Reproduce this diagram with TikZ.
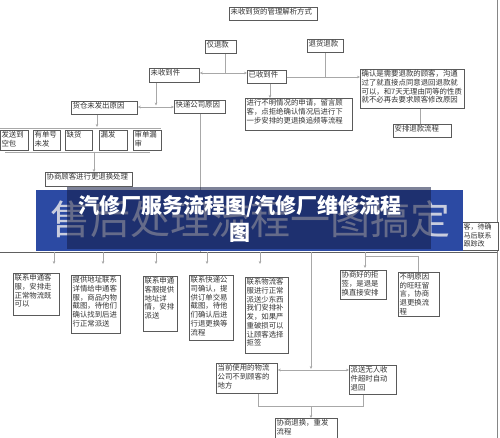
\documentclass[tikz,border=0pt]{standalone}
\usepackage{fontspec}
\setmainfont{Noto Sans CJK SC}
\usetikzlibrary{arrows.meta}
\definecolor{bannerblue}{HTML}{2C4AA3}
\definecolor{bannerdark}{HTML}{141C45}
\definecolor{edgecol}{HTML}{5A5A5A}
\definecolor{conncol}{HTML}{A8A8A8}
\definecolor{linecol}{HTML}{606060}
\definecolor{txtcol}{HTML}{333333}
\definecolor{bigcol}{HTML}{C9CDDE}
\tikzset{
 box/.style={draw=edgecol, line width=0.8pt, anchor=north west, inner sep=1.2pt, text=txtcol, font=\fontsize{7.4}{8.7}\selectfont},
 smallbox/.style={box, font=\fontsize{7}{8.5}\selectfont},
 conn/.style={draw=conncol, line width=0.9pt},
 arr/.style={conn, -{Stealth[length=3pt,width=2.6pt]}},
 mainline/.style={draw=linecol, line width=0.8pt},
 sideline/.style={draw=conncol!80!black, line width=0.8pt},
}
\newcommand{\bx}[7][box]{\node[#1] (#2) at (#3,#4) {\parbox[t][\dimexpr #6pt-2.4pt\relax][t]{\dimexpr #5pt-2.4pt\relax}{\raggedright #7}};}
\begin{document}
\begin{tikzpicture}[x=1pt,y=-1pt]
\useasboundingbox (0,0) rectangle (500,438);
\fill[white] (0,0) rectangle (500,438);

% x positions
\foreach \n/\v in {x54/54,x103/103,x156/156,x207/207,x260/260,x200/200,x270/270,x420/420,x97/97,x94/94,x311/311,x258/258,x363/363,x365/365,x418/418,x497/497}
  {\coordinate (\n) at (\v,0);}

% upper part
\bx{top}{229}{7}{88}{13}{未收到货的管理解析方式}
\bx{jtk}{205}{40}{31}{13}{仅退款}
\bx{thtk}{307}{39}{36}{13}{退货退款}
\bx{wsd}{149}{68}{50}{14}{未收到件}
\bx{ysd}{247}{70}{39}{13}{已收到件}
\bx{qr}{360}{69}{104}{39}{确认是需要退款的顾客，沟通\\过了就直接点同意退回退款就\\可以，和7天无理由同等的性质\\就不必再去要求顾客修改原因}
\bx{aptk}{393}{124}{58}{13}{安排退款流程}
\bx{jx}{245}{98}{107}{32}{进行不明情况的申请，留言顾\\客，点拒绝确认情况后进行下\\一步安排的更退换追频等流程}
\bx{hc}{71}{101}{66}{13}{货仓未发出原因}
\bx{kd}{174}{100}{51}{13}{快递公司原因}
\bx{s1}{0}{130}{28}{20}{发送到\\空包}
\bx{s2}{33}{130}{27}{20}{有单号\\未发}
\bx{s3}{65}{130}{27}{20}{缺货}
\bx{s4}{99}{130}{28}{20}{漏发}
\bx{s5}{133}{130}{28}{20}{审单漏\\审}
\bx{xs}{45}{172}{87}{14}{协商顾客进行更退换处理}

% upper connectors
\coordinate (j1) at (225,73);
\draw[conn] (jtk.south -| j1) -- (j1);
\draw[arr] (j1) -- (j1 -| wsd.east);
\draw[arr] (j1) -- (j1 -| ysd.west);
\coordinate (j2) at (325,77);
\draw[conn] (thtk.south -| j2) -- (j2);
\draw[conn] (ysd.east |- j2) -- (j2);
\draw[arr] (j2) -- (j2 -| qr.west);
\draw[arr] (ysd.south -| x270) -- (jx.north -| x270);
\draw[conn] (qr.south -| x420) -- (aptk.north -| x420);
\coordinate (j3) at (156,107);
\draw[arr, shorten >=1.5pt] (wsd.south -| j3) -- (j3);
\draw[arr] (j3) -- (j3 -| hc.east);
\draw[arr] (j3) -- (j3 -| kd.west);
\coordinate (h1a) at (0,128);
\coordinate (h1b) at (161,128);
\draw[conn] (h1a) -- (h1b);
\draw[arr, shorten >=1pt] (hc.south -| x97) -- (x97 |- h1a);
\coordinate (h2a) at (5,152);
\coordinate (h2b) at (150,152);
\draw[conn] (h2a) -- (h2b);
\draw[arr] (x94 |- h2a) -- (xs.north -| x94);

% lower boxes
\bx{b1}{13}{273}{46}{42}{联系申通客\\服，安排走\\正常物流既\\可以}
\bx{b2}{71}{275}{49}{58}{提供地址联系\\详情给申通客\\服，商品内物\\截图，待他们\\确认找到后进\\行正常派送}
\bx{b3}{143}{276}{34}{55}{联系申通\\客服提供\\地址详\\情，安排\\派送}
\bx{b4}{189}{275}{44}{65}{联系快递公\\司确认，提\\供订单交易\\截图，待他\\们确认后进\\行退更换等\\流程}
\bx{b5}{245}{277}{43}{76}{联系物流客\\服进行正常\\派送少东西\\我们安排补\\发，如果严\\重破损可以\\让顾客选择\\拒签}
\bx{b6}{340}{270}{46}{29}{协商好的拒\\签，是退是\\换直接安排}
\bx{b7}{398}{272}{41}{44}{不明原因\\的旺旺留\\言，协商\\退更换流\\程}
\bx{b8}{216}{363}{61}{30}{当前使用的物流\\公司不到顾客的\\地方}
\bx{b9}{349}{365}{47}{29}{派送无人收\\件超时自动\\退回}
\bx{b10}{275}{418}{62}{20}{协商退换，重发\\流程}
\bx[smallbox]{rb}{462}{222}{36}{28}{客，待确\\马后联系\\跟踪改}

% lower connectors
\coordinate (hl) at (0,252);
\coordinate (hr) at (497,252);
\draw[conn] (kd.south -| x200) -- (x200 |- hl);
\draw[mainline] (hl) -- (hr);
\draw[sideline] (x497) -- (x497 |- rb.north);
\draw[sideline] (x497 |- rb.south) -- (497,438);
\draw[arr, shorten >=9pt] (x54 |- hl) -- (x54 |- b1.north);
\draw[arr, shorten >=11pt] (x103 |- hl) -- (x103 |- b2.north);
\draw[arr, shorten >=12pt] (x156 |- hl) -- (x156 |- b3.north);
\draw[arr, shorten >=11pt] (x207 |- hl) -- (x207 |- b4.north);
\draw[arr, shorten >=13pt] (x260 |- hl) -- (x260 |- b5.north);
\coordinate (j5) at (311,370);
\draw[arr, shorten >=1pt] (x311 |- hl) -- (j5);
\draw[arr] (j5) -- (j5 -| b8.east);
\draw[arr] (j5) -- (j5 -| b9.west);
\coordinate (j6) at (311,406);
\draw[conn] (b8.south -| x258) -- (x258 |- j6) -- (x363 |- j6) -- (b9.south -| x363);
\draw[arr] (j6) -- (b10.north -| j6);
\coordinate (j7) at (365,256);
\draw[arr, shorten >=2pt] (x365 |- hl) -- (b6.north -| x365);
\draw[conn] (x365 |- j7) -- (x418 |- j7) -- (b7.north -| x418);

% banner
\fill[bannerblue] (36,190) rectangle (463,251);
\node[text=bigcol, font=\fontsize{40}{40}\selectfont, inner sep=0pt] (big) at (250,219) {售后处理流程一图搞定};
\fill[bannerdark, opacity=0.55] (67,187) rectangle (431,249);
\node[text=white, font=\bfseries\fontsize{21}{27}\selectfont, align=center, inner sep=0pt] (title) at (240,219) {汽修厂服务流程图/汽修厂维修流程\\图};
\end{tikzpicture}
\end{document}
